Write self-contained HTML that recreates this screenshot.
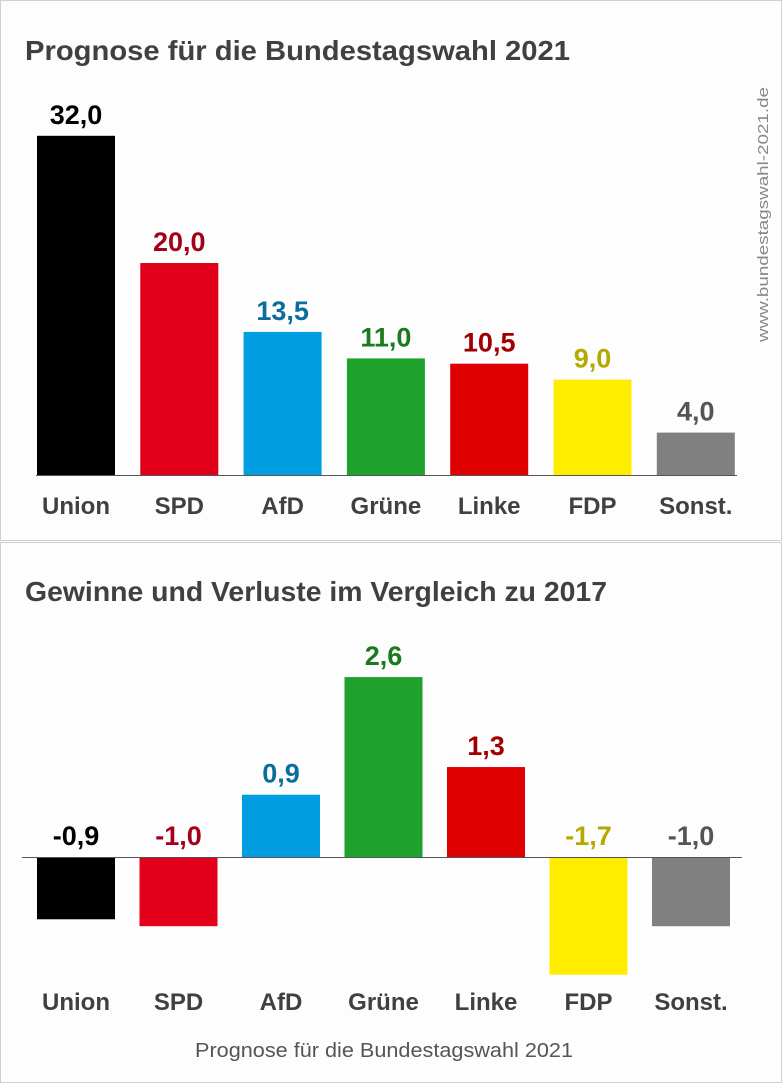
<!DOCTYPE html>
<html><head><meta charset="utf-8"><style>
html,body{margin:0;padding:0;background:#fff;}
svg{display:block;font-family:"Liberation Sans",sans-serif;}
</style></head><body>
<svg id="chart" width="782" height="1083" viewBox="0 0 782 1083">
<rect x="0.5" y="0.5" width="781" height="540" fill="#fdfdfd" stroke="#d0d0d0"/>
<rect x="0.5" y="542.5" width="781" height="540" fill="#fdfdfd" stroke="#d0d0d0"/>
<text x="25" y="60" font-size="28" font-weight="bold" fill="#404040" textLength="545" lengthAdjust="spacingAndGlyphs">Prognose für die Bundestagswahl 2021</text>
<text x="25" y="601" font-size="28" font-weight="bold" fill="#404040" textLength="582" lengthAdjust="spacingAndGlyphs">Gewinne und Verluste im Vergleich zu 2017</text>
<text transform="translate(768,342) rotate(-90)" font-size="15" fill="#888" textLength="255" lengthAdjust="spacingAndGlyphs">www.bundestagswahl-2021.de</text>
<text x="195" y="1057" font-size="20" fill="#555" textLength="378" lengthAdjust="spacingAndGlyphs">Prognose für die Bundestagswahl 2021</text>
<g id="top"></g><g id="bottom"></g>
</svg>
<script>
const parties = ["Union","SPD","AfD","Grüne","Linke","FDP","Sonst."];
const results = [32.0,20.0,13.5,11.0,10.5,9.0,4.0];
const changes = [-0.9,-1.0,0.9,2.6,1.3,-1.7,-1.0];
const barColors = ["#000000","#e2001a","#009ee0","#1fa12e","#df0000","#ffed00","#808080"];
const labelColors = ["#000000","#a3001a","#0a6e9c","#1a7a1e","#a00000","#b5a800","#555555"];

const NS="http://www.w3.org/2000/svg";
function mk(tag,attrs,parent,txt){const e=document.createElementNS(NS,tag);for(const k in attrs)e.setAttribute(k,attrs[k]);if(txt!==undefined)e.textContent=txt;parent.appendChild(e);return e;}
const fmt=v=>v.toFixed(1).replace('.',',');

// top chart
const yTop=v=>475-v*10.6;
const xTop=i=>37+i*103.3;
const gT=document.getElementById('top');
results.forEach((v,i)=>{
  const r=mk('rect',{x:xTop(i),y:yTop(v),width:78,height:475-yTop(v),fill:barColors[i]},gT);
  
  
  const t=mk('text',{x:xTop(i)+39,y:yTop(v)-12,'font-size':27,'font-weight':'bold',fill:labelColors[i],'text-anchor':'middle'},gT,fmt(v));
  
  
  const c=mk('text',{x:xTop(i)+39,y:514,'font-size':24,'font-weight':'bold',fill:'#404040','text-anchor':'middle'},gT,parties[i]);
  
  
});
const ax=mk('line',{x1:36,x2:737,y1:475.5,y2:475.5,stroke:'#555','stroke-width':1},gT);



// bottom chart
const y0=857, sc=69.2;
const yB=v=>y0-v*sc;
const xB=i=>37+i*102.5;
const gB=document.getElementById('bottom');
changes.forEach((v,i)=>{
  const top=Math.min(yB(v),y0), h=Math.abs(yB(v)-y0);
  const r=mk('rect',{x:xB(i),y:top,width:78,height:h,fill:barColors[i]},gB);
  
  
  const ly = v>=0 ? yB(v)-12 : y0-12;
  const t=mk('text',{x:xB(i)+39,y:ly,'font-size':27,'font-weight':'bold',fill:labelColors[i],'text-anchor':'middle'},gB,fmt(v));
  
  
  const c=mk('text',{x:xB(i)+39,y:1010,'font-size':24,'font-weight':'bold',fill:'#404040','text-anchor':'middle'},gB,parties[i]);
  
  
});
const zl=mk('line',{x1:22,x2:742,y1:y0+0.5,y2:y0+0.5,stroke:'#555','stroke-width':1},gB);


</script>
</body></html>
